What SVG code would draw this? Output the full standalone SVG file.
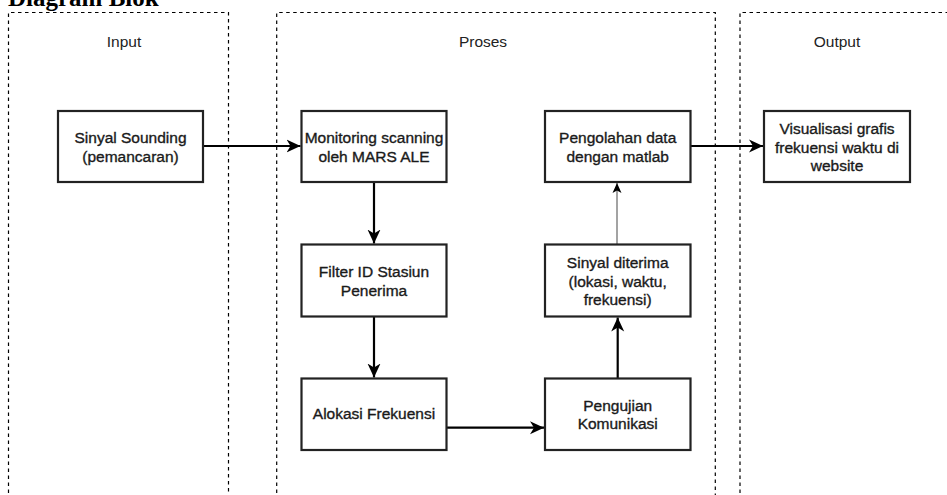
<svg xmlns="http://www.w3.org/2000/svg" width="947" height="495" viewBox="0 0 947 495">
<style>
.bg{fill:#ffffff}
.lane{fill:none;stroke:#000;stroke-width:1.2;stroke-dasharray:3.5 3.5}
.lbl{font-family:"Liberation Sans",Arial,sans-serif;font-size:15.5px;fill:#222;text-anchor:middle;dominant-baseline:central}
.box{fill:#fff;stroke:#222;stroke-width:2.2}
.txt{font-family:"Liberation Sans",Arial,sans-serif;font-size:15.5px;fill:#1a1a1a;stroke:#1a1a1a;stroke-width:0.35;text-anchor:middle;dominant-baseline:central}
.title{font-family:"Liberation Serif","Times New Roman",serif;font-size:25px;font-weight:bold;fill:#000}
.edge{fill:none;stroke:#000;stroke-width:2.2}
.thin{fill:none;stroke:#666;stroke-width:1.2}
</style>
<defs>
<marker id="arr" markerUnits="userSpaceOnUse" markerWidth="16" markerHeight="14" viewBox="-14 -7 16 14" refX="0" refY="0" orient="auto">
<path d="M0,0 L-14,-6.5 L-10,0 L-14,6.5 Z" fill="#000"/>
</marker>
<marker id="arrs" markerUnits="userSpaceOnUse" markerWidth="12" markerHeight="10" viewBox="-10 -5 12 10" refX="0" refY="0" orient="auto">
<path d="M0,0 L-10,-4.5 L-7.5,0 L-10,4.5 Z" fill="#000"/>
</marker>
</defs>
<rect class="bg" x="0" y="0" width="947" height="495"/>
<text class="title" x="8" y="6">Diagram Blok</text>
<g id="lane-input">
<path class="lane" d="M8.5,500 V12.5 H228.5 V500"/>
<text class="lbl" x="124" y="41.7">Input</text>
</g>
<g id="lane-proses">
<path class="lane" d="M276.7,500 V12.5 H715.3 V500"/>
<text class="lbl" x="483" y="41.7">Proses</text>
</g>
<g id="lane-output">
<path class="lane" d="M740,500 V12.5 H950"/>
<text class="lbl" x="837" y="41.7">Output</text>
</g>
<g id="edges">
<line class="edge" x1="203" y1="146" x2="300.5" y2="146" marker-end="url(#arr)"/>
<line class="edge" x1="374" y1="182" x2="374" y2="243.5" marker-end="url(#arr)"/>
<line class="edge" x1="374" y1="316.5" x2="374" y2="377.5" marker-end="url(#arr)"/>
<line class="edge" x1="446.5" y1="427.7" x2="544" y2="427.7" marker-end="url(#arr)"/>
<line class="edge" x1="617.7" y1="378.5" x2="617.7" y2="317.5" marker-end="url(#arr)"/>
<line class="thin" x1="617" y1="244.5" x2="617" y2="183" marker-end="url(#arrs)"/>
<line class="edge" x1="690.5" y1="146" x2="763" y2="146" marker-end="url(#arr)"/>
</g>
<g id="n-sounding">
<rect class="box" x="58" y="111" width="145" height="71"/>
<text class="txt" x="130.5" y="137">Sinyal Sounding</text>
<text class="txt" x="130.5" y="156">(pemancaran)</text>
</g>
<g id="n-monitoring">
<rect class="box" x="301.5" y="111" width="145" height="71"/>
<text class="txt" x="374" y="137">Monitoring scanning</text>
<text class="txt" x="374" y="156">oleh MARS ALE</text>
</g>
<g id="n-filter">
<rect class="box" x="301.5" y="244.5" width="145" height="72"/>
<text class="txt" x="374" y="271.5">Filter ID Stasiun</text>
<text class="txt" x="374" y="290">Penerima</text>
</g>
<g id="n-alokasi">
<rect class="box" x="301.5" y="378.5" width="145" height="71.5"/>
<text class="txt" x="374" y="413.5">Alokasi Frekuensi</text>
</g>
<g id="n-pengujian">
<rect class="box" x="545" y="378.5" width="145.5" height="71.5"/>
<text class="txt" x="617.7" y="405">Pengujian</text>
<text class="txt" x="617.7" y="423">Komunikasi</text>
</g>
<g id="n-diterima">
<rect class="box" x="545" y="244.5" width="145.5" height="72"/>
<text class="txt" x="617.7" y="262.5">Sinyal diterima</text>
<text class="txt" x="617.7" y="281">(lokasi, waktu,</text>
<text class="txt" x="617.7" y="299">frekuensi)</text>
</g>
<g id="n-pengolahan">
<rect class="box" x="545" y="111" width="145.5" height="71"/>
<text class="txt" x="617.7" y="137">Pengolahan data</text>
<text class="txt" x="617.7" y="156">dengan matlab</text>
</g>
<g id="n-visualisasi">
<rect class="box" x="764" y="111" width="146" height="71"/>
<text class="txt" x="837" y="128.5">Visualisasi grafis</text>
<text class="txt" x="837" y="147">frekuensi waktu di</text>
<text class="txt" x="837" y="165">website</text>
</g>
</svg>
